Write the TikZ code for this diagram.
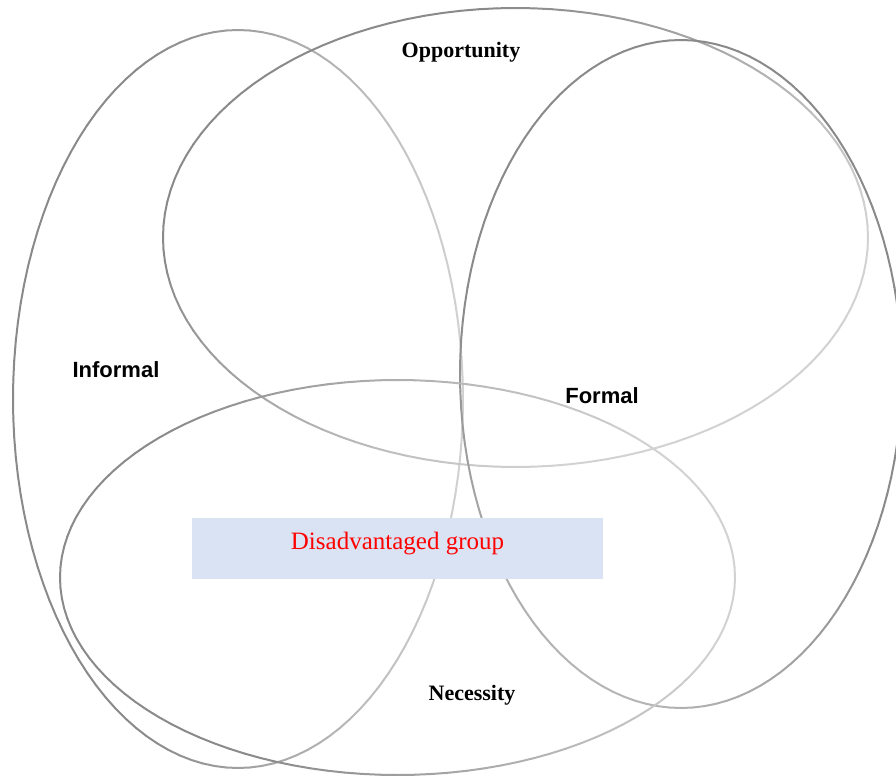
\documentclass[tikz,border=0pt]{standalone}
\usepackage{fontspec}
\setmainfont{Liberation Serif}
\setsansfont{Liberation Sans}

\definecolor{darkline}{HTML}{8A8A8A}
\definecolor{lightline}{HTML}{D2D2D2}
\definecolor{groupfill}{HTML}{DAE3F3}
\definecolor{grouptext}{HTML}{FF0000}

\tikzset{
  loopline/.style={line width=1pt, line cap=round},
  seriflabel/.style={font=\fontsize{11}{13}\selectfont\bfseries, anchor=base, inner sep=0pt},
  sanslabel/.style={font=\fontsize{11}{13}\selectfont\sffamily\bfseries, anchor=base, inner sep=0pt},
  groupbox/.style={fill=groupfill, minimum width=205.5pt, minimum height=30.5pt, inner sep=0pt},
  grouplabel/.style={font=\fontsize{12.5}{15}\selectfont, text=grouptext, anchor=base, inner sep=0pt}
}

% Ellipse drawn in short pieces, lighter towards angle #5
% #1,#2 centre, #3,#4 radii, #6 base mix
\newcommand{\shadedloop}[6]{%
  \foreach \t in {0,3,...,357}{
    \pgfmathtruncatemacro{\mixval}{max(0,min(100,#6+70*cos(\t+1.5-#5)))}
    \draw[loopline, lightline!\mixval!darkline]
      ({#1+#3*cos(\t)},{#2-#4*sin(\t)}) -- ({#1+#3*cos(\t+3)},{#2-#4*sin(\t+3)});
  }%
}

\begin{document}
\begin{tikzpicture}[x=0.5pt, y=-0.5pt]

\useasboundingbox (0,0) rectangle (896,776);

% Informal (tall, left)
\shadedloop{238}{399}{225}{369}{0}{30}
% Opportunity (wide, top)
\shadedloop{515.5}{237.5}{352.5}{229.5}{320}{50}
% Formal (tall, right)
\shadedloop{681}{374}{221}{334}{250}{-10}
% Necessity (wide, bottom)
\shadedloop{397.5}{577.5}{337.5}{197.5}{10}{40}

% The group box lies over the lines
\node[groupbox] (group) at (397.5,548.5) {};
\node[grouplabel] (grouptitle) at (397.5,549) {Disadvantaged group};

% Labels of the four sets
\node[seriflabel] (opportunity) at (461,57) {Opportunity};
\node[sanslabel] (informal) at (116,377) {Informal};
\node[sanslabel] (formal) at (602,403) {Formal};
\node[seriflabel] (necessity) at (472,700) {Necessity};
\end{tikzpicture}
\end{document}
